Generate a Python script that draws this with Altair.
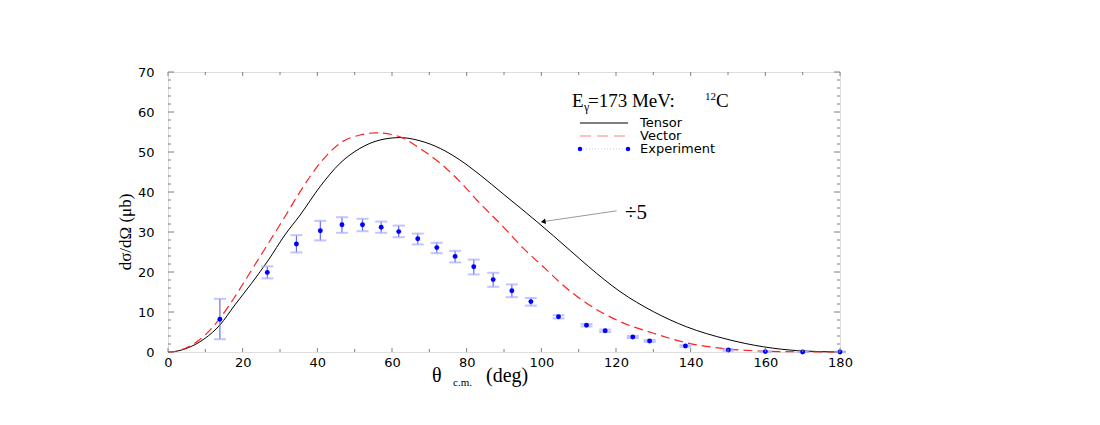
import altair as alt
import pandas as pd

# ---------------- data ----------------
tensor_angle = [0, 2.0, 4.5, 9.9, 13.9, 17.9, 22.4, 26.9, 31.3, 35.4, 40.7, 46.1, 51.4, 56.8,
                62.1, 67.5, 72.9, 78.2, 83.6, 89.8, 98.8, 107.7, 112.6, 121.1, 130.0,
                138.9, 149.7, 159.5, 169.3, 180]
tensor_value = [0, 0.14, 0.75, 3.4, 6.75, 11.75, 17.2, 23.0, 29.25, 34.25, 41.3, 47.2, 50.9, 53.0,
                53.6, 52.8, 50.9, 48.0, 44.25, 39.5, 32.6, 25.4, 21.4, 15.1, 10.1,
                6.3, 3.2, 1.3, 0.3, 0]

vector_angle = [0, 2.0, 4.5, 9.9, 13.9, 17.9, 22.4, 26.9, 31.3, 35.4, 40.7, 46.1, 51.4, 55.9,
                62.1, 67.5, 72.9, 78.2, 82.7, 89.8, 95.2, 101.0, 104.6, 112.1, 121.1,
                130.0, 138.9, 149.7, 159.5, 169.3, 180]
vector_value = [0, 0.17, 0.88, 4.2, 8.4, 13.8, 20.5, 27.2, 33.8, 40.1, 47.2, 52.2, 54.25, 54.8,
                53.8, 50.9, 47.2, 42.6, 38.0, 31.3, 25.9, 20.9, 17.7, 12.2, 7.6,
                4.7, 2.3, 0.8, 0.2, 0.05, 0]

exp_angle = [13.9, 26.6, 34.4, 40.8, 46.6, 52.1, 57.1, 61.8, 66.9, 72.0, 76.9, 81.9, 87.1,
             92.1, 97.2, 104.6, 112.1, 117.1, 124.5, 129.0, 138.6, 150.1, 160.0, 170.0, 180.0]
exp_value = [8.2, 19.9, 27.0, 30.3, 31.8, 31.8, 31.2, 30.1, 28.3, 26.1, 23.9, 21.3, 18.1,
             15.3, 12.6, 8.8, 6.7, 5.3, 3.75, 2.75, 1.5, 0.5, 0.1, 0.0, 0.0]
exp_low = [3.2, 18.4, 24.9, 27.9, 29.8, 30.2, 29.8, 28.7, 26.9, 24.7, 22.4, 19.4, 16.3,
           13.7, 11.6, 8.4, 6.4, 5.0, 3.5, 2.5, 1.3, 0.3, 0.0, 0.0, 0.0]
exp_high = [13.3, 21.4, 29.2, 32.8, 33.7, 33.3, 32.6, 31.6, 29.6, 27.3, 25.3, 23.1, 19.8,
            16.9, 13.5, 9.2, 7.0, 5.6, 4.0, 3.0, 1.7, 0.7, 0.2, 0.1, 0.1]

x_major = [0, 20, 40, 60, 80, 100, 120, 140, 160, 180]
x_minor = [10, 30, 50, 70, 90, 110, 130, 150, 170]
y_major = [0, 10, 20, 30, 40, 50, 60, 70]
y_minor = [2, 4, 6, 8, 12, 14, 16, 18, 22, 24, 26, 28, 32, 34, 36, 38, 42, 44, 46, 48,
           52, 54, 56, 58, 62, 64, 66, 68]

# arrow annotation (data coordinates)
arrow_from = (120.2, 35.3)
arrow_to = (100.5, 32.6)

W, H = 672, 280
SERIF = "Liberation Serif"
SANS = "DejaVu Sans"
TICK_COL = "#808080"

xs = alt.Scale(domain=[0, 180], nice=False, zero=False)
ys = alt.Scale(domain=[0, 70], nice=False, zero=False)
x_axis = alt.Axis(values=x_major, title=None, ticks=False, domain=False, grid=False,
                  labelFont=SANS, labelFontSize=13, labelColor="black",
                  labelPadding=4, labelFlush=False, labelOverlap=False)
y_axis = alt.Axis(values=y_major, title=None, ticks=False, domain=False, grid=False,
                  labelFont=SANS, labelFontSize=13, labelColor="black",
                  labelPadding=14, labelOverlap=False, labelFlush=False)

def X(f):
    return alt.X(f, scale=xs, axis=x_axis)

def Y(f):
    return alt.Y(f, scale=ys, axis=y_axis)

curves = pd.DataFrame({"a": tensor_angle, "v": tensor_value})
vcurve = pd.DataFrame({"a": vector_angle, "v": vector_value})
exp = pd.DataFrame({"a": exp_angle, "v": exp_value, "lo": exp_low, "hi": exp_high})

tensor = alt.Chart(curves).mark_line(color="black", strokeWidth=1, interpolate="monotone").encode(
    x=X("a:Q"), y=Y("v:Q"))
vector = alt.Chart(vcurve).mark_line(color="#ff2020", strokeWidth=1.2, strokeDash=[9, 5],
                                     interpolate="monotone").encode(x=X("a:Q"), y=Y("v:Q"))

err_rule = alt.Chart(exp).mark_rule(color="#6a6aff", strokeWidth=1.2).encode(
    x=X("a:Q"), y=Y("lo:Q"), y2="hi:Q")
cap_lo = alt.Chart(exp).mark_tick(color="#a8acff", thickness=2, size=12, orient="horizontal").encode(
    x=X("a:Q"), y=Y("lo:Q"))
cap_hi = alt.Chart(exp).mark_tick(color="#a8acff", thickness=2, size=12, orient="horizontal").encode(
    x=X("a:Q"), y=Y("hi:Q"))
pts = alt.Chart(exp).mark_point(filled=True, shape="circle", size=24, color="#0000ff",
                                opacity=1).encode(x=X("a:Q"), y=Y("v:Q"))

# inward ticks on all four sides
xmaj = pd.DataFrame({"a": x_major})
xmin = pd.DataFrame({"a": x_minor})
ymaj = pd.DataFrame({"v": y_major})
ymin = pd.DataFrame({"v": y_minor})

def xticks(df, ln):
    bot = alt.Chart(df).mark_rule(color=TICK_COL, strokeWidth=1).encode(
        x=X("a:Q"), y=alt.value(H), y2=alt.value(H - ln))
    top = alt.Chart(df).mark_rule(color=TICK_COL, strokeWidth=1).encode(
        x=X("a:Q"), y=alt.value(0), y2=alt.value(ln))
    return bot + top

def yticks(df, ln):
    left = alt.Chart(df).mark_rule(color=TICK_COL, strokeWidth=1).encode(
        y=Y("v:Q"), x=alt.value(0), x2=alt.value(ln))
    right = alt.Chart(df).mark_rule(color=TICK_COL, strokeWidth=1).encode(
        y=Y("v:Q"), x=alt.value(W), x2=alt.value(W - ln))
    return left + right

ticks = xticks(xmaj, 4) + xticks(xmin, 3) + yticks(ymaj, 6) + yticks(ymin, 3)

# arrow
arr = pd.DataFrame({"a": [arrow_from[0]], "v": [arrow_from[1]],
                    "a2": [arrow_to[0]], "v2": [arrow_to[1]]})
arrow_line = alt.Chart(arr).mark_rule(color="#9a9a9a", strokeWidth=1).encode(
    x=X("a:Q"), y=Y("v:Q"), x2="a2:Q", y2="v2:Q")
arrow_head = alt.Chart(arr).mark_point(shape="triangle-left", filled=True, color="black",
                                       size=30, angle=351, opacity=1).encode(
    x=X("a2:Q"), y=Y("v2:Q"))

def txt(s, x, y, font=SERIF, size=14, align="left", baseline="alphabetic", angle=0, color="black"):
    return alt.Chart(pd.DataFrame({"t": [s]})).mark_text(
        font=font, fontSize=size, align=align, baseline=baseline, angle=angle, color=color
    ).encode(text="t:N", x=alt.value(x), y=alt.value(y))

div5 = txt("÷5", 457, 147, size=21)

# title inside plot:  E_γ=173 MeV: ^12C
title_parts = (txt("E", 404, 35, size=19) + txt("γ", 416, 39, size=12)
               + txt("=173 MeV:", 420, 35, size=19) + txt("12", 537, 28, size=11)
               + txt("C", 548, 35, size=19))

# legend
leg_df_t = pd.DataFrame({"k": [0]})
leg_tensor = alt.Chart(leg_df_t).mark_rule(color="black", strokeWidth=1).encode(
    x=alt.value(412), x2=alt.value(460), y=alt.value(51))
leg_vector = alt.Chart(leg_df_t).mark_rule(color="#ff8080", strokeWidth=1.2, strokeDash=[11, 6]).encode(
    x=alt.value(412), x2=alt.value(460), y=alt.value(64))
leg_exp_line = alt.Chart(leg_df_t).mark_rule(color="#c8c8ff", strokeWidth=1, strokeDash=[1, 2]).encode(
    x=alt.value(412), x2=alt.value(460), y=alt.value(77))
leg_exp_p1 = alt.Chart(leg_df_t).mark_point(filled=True, size=20, color="#0000ff", opacity=1).encode(
    x=alt.value(412), y=alt.value(77))
leg_exp_p2 = alt.Chart(leg_df_t).mark_point(filled=True, size=20, color="#0000ff", opacity=1).encode(
    x=alt.value(460), y=alt.value(77))
leg_labels = (txt("Tensor", 472, 51, font=SANS, size=13, baseline="middle")
              + txt("Vector", 472, 64, font=SANS, size=13, baseline="middle")
              + txt("Experiment", 472, 77, font=SANS, size=13, baseline="middle"))

# axis titles
ytitle = txt("dσ/dΩ (μb)", -42, 160, size=17, align="center", baseline="middle", angle=270)
xtitle = (txt("θ", 264, 310, size=20) + txt("c.m.", 285, 314, size=11)
          + txt("(deg)", 318, 310, size=20))

chart = alt.layer(
    tensor, vector, err_rule, cap_lo, cap_hi, pts, ticks,
    arrow_line, arrow_head, div5, title_parts,
    leg_tensor, leg_vector, leg_exp_line, leg_exp_p1, leg_exp_p2, leg_labels,
    ytitle, xtitle
).properties(
    width=W, height=H,
    autosize=alt.AutoSizeParams(type="none"),
    padding={"left": 160, "top": 64, "right": 252, "bottom": 65},
).configure_view(stroke=TICK_COL, strokeWidth=1).configure(background="white")

chart.save("out.html", embed_options={"renderer": "svg", "actions": False})
